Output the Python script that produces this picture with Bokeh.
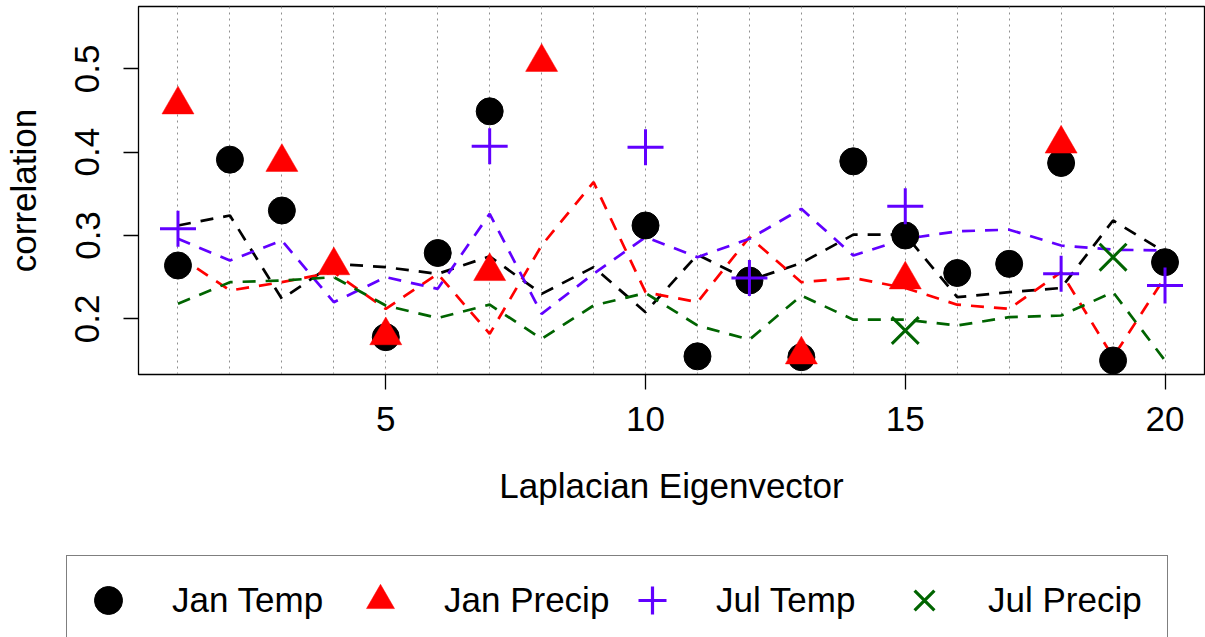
from bokeh.plotting import figure
from bokeh.layouts import column
from bokeh.models import Legend, LegendItem, FixedTicker, Grid, ColumnDataSource
from bokeh.embed import file_html
from bokeh.resources import INLINE

nan = float("nan")

eigvec = list(range(1, 21))

# observed correlations (missing = not shown)
jan_temp = [0.264, 0.391, 0.330, nan, 0.178, 0.279, 0.449, nan, nan, 0.312,
            0.155, 0.246, 0.154, 0.389, 0.300, 0.255, 0.266, 0.387, 0.150, 0.268]
jan_precip = [0.457, nan, 0.388, 0.264, 0.180, nan, 0.257, 0.508, nan, nan,
              nan, nan, 0.157, nan, 0.247, nan, nan, 0.410, nan, nan]
jul_temp = [0.308, nan, nan, nan, nan, nan, 0.407, nan, nan, 0.406,
            nan, 0.249, nan, nan, 0.335, nan, nan, 0.254, nan, 0.240]
jul_precip = [nan, nan, nan, nan, nan, nan, nan, nan, nan, nan,
              nan, nan, nan, nan, 0.186, nan, nan, nan, 0.274, nan]

# reference (dashed) curves
jan_temp_ref = [0.312, 0.324, 0.224, 0.266, 0.262, 0.254, 0.275, 0.230, 0.262, 0.208,
                0.277, 0.246, 0.267, 0.301, 0.301, 0.226, 0.232, 0.237, 0.318, 0.280]
jan_precip_ref = [0.276, 0.234, 0.244, 0.256, 0.212, 0.254, 0.182, 0.288, 0.364, 0.232,
                  0.220, 0.298, 0.244, 0.249, 0.237, 0.217, 0.212, 0.256, 0.154, 0.250]
jul_temp_ref = [0.296, 0.270, 0.294, 0.220, 0.250, 0.236, 0.326, 0.206, 0.254, 0.298,
                0.274, 0.296, 0.332, 0.276, 0.296, 0.305, 0.307, 0.288, 0.283, 0.282]
jul_precip_ref = [0.218, 0.244, 0.246, 0.250, 0.216, 0.201, 0.217, 0.176, 0.216, 0.231,
                  0.192, 0.175, 0.228, 0.199, 0.199, 0.192, 0.202, 0.204, 0.232, 0.150]

x_ticks = [5, 10, 15, 20]
y_ticks = [0.2, 0.3, 0.4, 0.5]

series_names = ["Jan Temp", "Jan Precip", "Jul Temp", "Jul Precip"]
colors = ["#000000", "#FF0000", "#6100FF", "#006400"]

FONT = "Liberation Sans"
FS = "35px"

src = ColumnDataSource(dict(x=eigvec,
                            jt=jan_temp, jp=jan_precip, ut=jul_temp, up=jul_precip,
                            jtr=jan_temp_ref, jpr=jan_precip_ref,
                            utr=jul_temp_ref, upr=jul_precip_ref))


def add_markers(fig, lw=3):
    r1 = fig.scatter("x", "jt", source=src, marker="circle", size=27,
                     fill_color="black", line_color="black")
    r2 = fig.scatter("x", "jp", source=src, marker="triangle", size=32,
                     fill_color="#FF0000", line_color="#FF0000", line_width=0.5)
    r3 = fig.scatter("x", "ut", source=src, marker="cross", size=36,
                     line_color="#6100FF", line_width=lw)
    r4 = fig.scatter("x", "up", source=src, marker="x", size=38,
                     line_color="#006400", line_width=lw)
    return [r1, r2, r3, r4]


p = figure(width=1205, height=540, output_backend="svg", toolbar_location=None,
           x_range=(0.24, 20.76), y_range=(0.1332, 0.5748),
           min_border_left=137, min_border_right=1, min_border_top=6,
           min_border_bottom=166)
p.frame_align = False
p.background_fill_color = "white"
p.border_fill_color = "white"
p.outline_line_color = "black"
p.outline_line_width = 1.3
p.grid.visible = False

# dotted vertical guides
vgrid = Grid(dimension=0, ticker=FixedTicker(ticks=eigvec),
             grid_line_color="#8f8f8f", grid_line_dash="2 4", grid_line_width=1)
p.add_layout(vgrid)

# dashed reference lines
for col, c in zip(["jtr", "jpr", "utr", "upr"], colors):
    p.line("x", col, source=src, line_color=c, line_width=2.7, line_dash="13 10")

add_markers(p)

# axes
p.xaxis.ticker = FixedTicker(ticks=x_ticks)
p.yaxis.ticker = FixedTicker(ticks=y_ticks)
p.xaxis.axis_label = "Laplacian Eigenvector"
p.yaxis.axis_label = "correlation"
for ax in (p.xaxis[0], p.yaxis[0]):
    ax.minor_tick_line_color = None
    ax.major_tick_in = 0
    ax.major_tick_out = 15
    ax.major_tick_line_color = "black"
    ax.major_tick_line_width = 1.3
    ax.axis_line_color = "black"
    ax.major_label_text_font = FONT
    ax.major_label_text_font_size = FS
    ax.major_label_text_color = "black"
    ax.axis_label_text_font = FONT
    ax.axis_label_text_font_size = FS
    ax.axis_label_text_font_style = "normal"
    ax.axis_label_text_color = "black"
p.yaxis.major_label_orientation = "vertical"
p.xaxis.major_label_standoff = 17
p.xaxis.axis_label_standoff = 32
p.yaxis.major_label_standoff = 24
p.yaxis.axis_label_standoff = 30

# legend strip below the plot
lg = figure(width=1205, height=97, output_backend="svg", toolbar_location=None,
            x_range=(-10, -9), y_range=(0, 1), x_axis_type=None, y_axis_type=None,
            min_border_left=0, min_border_right=0, min_border_top=0,
            min_border_bottom=0)
lg.frame_align = False
lg.outline_line_color = None
lg.background_fill_color = "white"
lg.border_fill_color = "white"
lg.grid.visible = False
leg_renderers = add_markers(lg, lw=3.2)

legend = Legend(items=[LegendItem(label=n, renderers=[r])
                       for n, r in zip(series_names, leg_renderers)],
                orientation="horizontal", location=(66, -8),
                glyph_width=70, glyph_height=76, label_standoff=29,
                label_width=173, spacing=0, padding=6, margin=0,
                border_line_color="black", border_line_width=1.6,
                background_fill_color="white", background_fill_alpha=1,
                label_text_font=FONT, label_text_font_size=FS,
                label_text_color="black")
lg.add_layout(legend, "center")

layout = column(p, lg, spacing=0)
open("out.html", "w").write(file_html(layout, INLINE))
